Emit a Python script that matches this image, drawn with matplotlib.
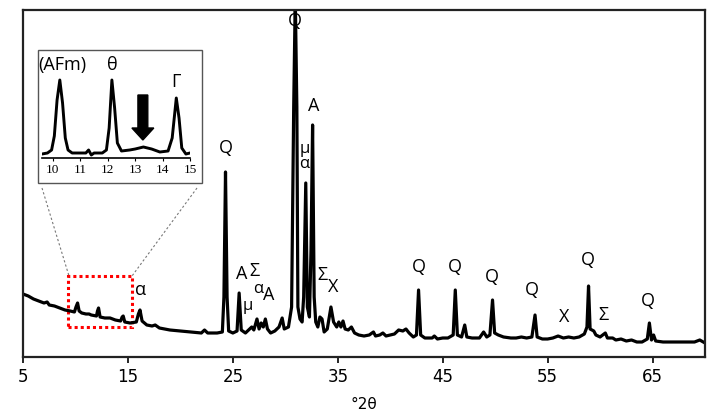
import matplotlib
matplotlib.use("Agg")
from matplotlib import pyplot as plt
from matplotlib.patches import Rectangle
from matplotlib.lines import Line2D

W, H = 708, 412

# main diffractogram, vertices (2theta, intensity in a.u.)
two_theta = [
    5.0, 5.5, 6.0, 6.5, 7.0, 7.3, 7.5, 8.0, 8.5, 9.0, 9.5, 9.9,
    10.05, 10.2, 10.35, 10.6, 11.0, 11.3, 11.5, 12.0, 12.1, 12.2, 12.35,
    12.8, 13.3, 13.8, 14.3, 14.45, 14.55, 14.7, 15.2, 15.8, 16.0, 16.15,
    16.35, 16.8, 17.3, 17.6, 18.0, 19.0, 20.0, 21.0, 22.0, 22.3, 22.6,
    23.0, 23.5, 24.0, 24.15, 24.3, 24.45, 24.6, 25.0, 25.4, 25.6, 25.8,
    26.2, 26.6, 26.8, 27.0, 27.3, 27.5, 27.7, 27.9, 28.1, 28.3, 28.6,
    29.0, 29.4, 29.7, 29.9, 30.3, 30.6, 30.8, 30.95, 31.1, 31.2, 31.4,
    31.6, 31.75, 31.95, 32.1, 32.3, 32.45, 32.6, 32.75, 32.9, 33.1, 33.3,
    33.5, 33.7, 34.0, 34.35, 34.6, 34.9, 35.1, 35.3, 35.5, 35.7, 36.0,
    36.3, 36.6, 37.0, 37.5, 38.0, 38.4, 38.6, 39.0, 39.3, 39.6, 40.0,
    40.4, 40.8, 41.2, 41.5, 41.8, 42.2, 42.5, 42.7, 42.9, 43.3, 44.0,
    44.2, 44.5, 45.0, 45.5, 46.0, 46.2, 46.4, 46.8, 47.1, 47.3, 47.8,
    48.5, 48.9, 49.2, 49.5, 49.75, 49.95, 50.3, 50.8, 51.5, 52.0, 52.5,
    53.0, 53.5, 53.8, 54.0, 54.5, 55.0, 55.5, 56.0, 56.5, 57.0, 57.5,
    58.0, 58.5, 58.75, 58.9, 59.05, 59.4, 59.6, 60.0, 60.5, 60.7, 61.2,
    61.5, 62.0, 62.5, 63.0, 63.5, 64.0, 64.5, 64.7, 64.9, 65.1, 65.3,
    66.0, 67.0, 68.0, 69.0, 69.5, 70.0,
]
intensity = [
    63, 61, 58, 56, 54, 55, 52, 51, 49, 47, 46, 45,
    50, 54, 46, 44, 43, 43, 42, 41, 46, 49, 40,
    39, 39, 37, 36, 40, 41, 35, 34, 35, 43, 47,
    36, 32, 31, 32, 29, 27, 26, 25, 24, 27, 24,
    24, 24, 25, 60, 185, 60, 26, 24, 26, 64, 27,
    24, 28, 30, 27, 38, 28, 34, 30, 38, 28, 24,
    26, 30, 39, 28, 30, 50, 250, 360, 250, 50, 38,
    35, 60, 174, 50, 40, 107, 232, 60, 35, 30, 40,
    38, 25, 28, 50, 35, 30, 35, 30, 36, 28, 27,
    30, 24, 22, 21, 22, 25, 21, 22, 24, 21, 22,
    23, 27, 26, 28, 24, 20, 22, 67, 22, 19, 19,
    21, 18, 19, 19, 22, 67, 22, 20, 32, 20, 19,
    19, 25, 20, 22, 57, 24, 22, 20, 19, 19, 20,
    19, 20, 42, 20, 18, 18, 19, 21, 19, 20, 19,
    20, 23, 30, 71, 28, 26, 22, 20, 24, 19, 19,
    17, 18, 16, 17, 15, 15, 18, 34, 17, 22, 16,
    15, 15, 15, 15, 17, 14,
]

# phase labels: text, 2theta, height
label_text = ["Q", "A", "μ", "Σ", "α", "A", "α", "Q", "μ", "α", "A", "Σ", "X",
              "Q", "Q", "Q", "Q", "X", "Q", "Σ", "Q"]
label_x = [24.3, 25.8, 26.4, 27.1, 27.4, 28.4, 16.2, 30.9, 31.9, 31.8, 32.7,
           33.5, 34.6, 42.7, 46.2, 49.7, 53.5, 56.6, 58.8, 60.3, 64.6]
label_y = [200, 74, 43, 77, 60, 53, 58, 327, 200, 185, 242, 73, 61,
           81, 81, 71, 58, 31, 88, 33, 47]

# inset: zoom of 9.6-15 deg
inset_x = [9.6, 9.8, 9.95, 10.05, 10.15, 10.25, 10.35, 10.45, 10.55, 10.7,
           11.0, 11.2, 11.3, 11.4, 11.5, 11.8, 11.95, 12.05, 12.15, 12.25,
           12.35, 12.5, 12.8, 13.0, 13.3, 13.6, 13.9, 14.2, 14.35, 14.5,
           14.6, 14.7, 14.85, 15.0]
inset_y = [4, 5, 8, 22, 58, 78, 55, 20, 8, 5,
           5, 5, 8, 3, 5, 5, 8, 30, 78, 50,
           15, 7, 8, 9, 11, 9, 6, 7, 20, 60,
           40, 10, 4, 5]
inset_ticks = [10, 11, 12, 13, 14, 15]

fig = plt.figure(figsize=(W / 100, H / 100), dpi=100)
ax = fig.add_axes([23 / W, 1 - 357 / H, 682 / W, 347 / H])
ax.plot(two_theta, intensity, color="black", lw=2.3, solid_joinstyle="round")
ax.set_xlim(5, 70)
ax.set_ylim(0, 347)
ax.set_yticks([])
ax.set_xticks([5, 15, 25, 35, 45, 55, 65])
ax.tick_params(axis="x", direction="out", length=4, width=1.2, labelsize=12, pad=4)
for s in ax.spines.values():
    s.set_linewidth(1.6)
    s.set_color("#222222")
ax.set_xlabel("°2θ", fontsize=11, labelpad=8)

for t, x, y in zip(label_text, label_x, label_y):
    fs = 12 if t in ("μ", "α") and 25 < x < 33 else 13
    ax.text(x, y, t, ha="center", va="bottom", fontsize=fs, family="Open Sans")

# red dotted zoom box
ax.add_patch(Rectangle((9.29, 30), 15.4 - 9.29, 51, fill=False,
                       edgecolor="red", lw=2.2, linestyle=(0, (1, 1))))

# inset frame and connectors (figure coordinates)
fig.patches.append(Rectangle((38 / W, 1 - 183 / H), 164 / W, 133 / H,
                             transform=fig.transFigure, fill=False,
                             edgecolor="#555555", lw=1.0))
for (x0, y0), (x1, y1) in [((42, 188), (69, 276)), ((197, 188), (132, 276))]:
    fig.lines.append(Line2D([x0 / W, x1 / W], [1 - y0 / H, 1 - y1 / H],
                            transform=fig.transFigure, color="#777777",
                            lw=0.8, linestyle=(0, (2, 2))))

axi = fig.add_axes([42 / W, 1 - 158 / H, 148 / W, 103 / H])
axi.plot(inset_x, inset_y, color="black", lw=2.1, solid_joinstyle="round")
axi.set_xlim(9.6, 15.0)
axi.set_ylim(0, 103)
axi.set_yticks([])
axi.set_xticks(inset_ticks)
axi.tick_params(axis="x", direction="out", length=2.5, width=0.8, labelsize=9.5, pad=2)
for lab in axi.get_xticklabels():
    lab.set_family("Liberation Serif")
for side in ("top", "left", "right"):
    axi.spines[side].set_visible(False)
axi.spines["bottom"].set_linewidth(1.2)
axi.patch.set_alpha(0)

axi.text(10.33, 93, "(AFm)", ha="center", va="center", fontsize=13, family="Open Sans")
axi.text(12.15, 93, "θ", ha="center", va="center", fontsize=13, family="Open Sans")
axi.text(14.5, 76, "Γ", ha="center", va="center", fontsize=13, family="Open Sans")
axi.arrow(13.28, 63, 0, -45, width=0.36, head_width=0.8, head_length=12,
          length_includes_head=True, color="black")

fig.savefig("out.png", dpi=100)
